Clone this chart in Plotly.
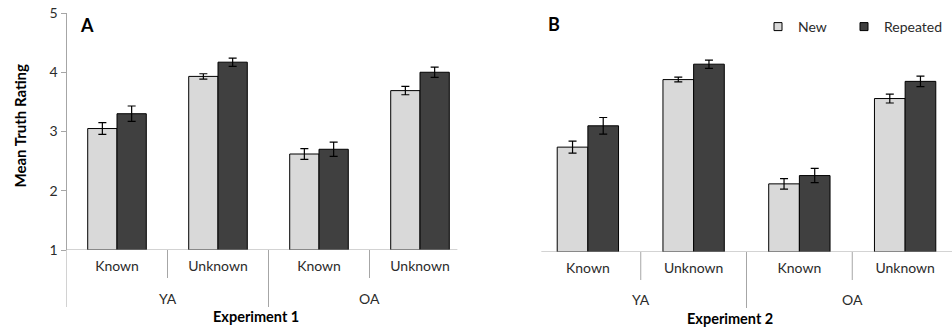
import plotly.graph_objects as go

# ---- data ----
groups = ["YA", "OA"]
conditions = ["Known", "Unknown", "Known", "Unknown"]
series = ["New", "Repeated"]

expA_new = [3.05, 3.93, 2.62, 3.69]
expA_new_err = [0.10, 0.045, 0.09, 0.07]
expA_rep = [3.30, 4.17, 2.70, 4.00]
expA_rep_err = [0.13, 0.07, 0.12, 0.087]

expB_new = [2.77, 3.91, 2.15, 3.59]
expB_new_err = [0.10, 0.04, 0.09, 0.075]
expB_rep = [3.13, 4.17, 2.29, 3.88]
expB_rep_err = [0.14, 0.07, 0.12, 0.09]

y_ticks = [1, 2, 3, 4, 5]

W, H = 952, 333
FONT = "Lato"
TXT = "#2b2b2b"
GRID = "#A6A6A6"
C_NEW = "#D9D9D9"
C_REP = "#404040"

xpos = list(range(len(conditions)))

def px_x(p):
    return p / W

def px_y(p):
    return 1 - p / H

fig = go.Figure()

def add_bars(vals, errs, color, name, xa, ya):
    fig.add_trace(go.Bar(
        x=xpos, y=[v - 1 for v in vals], base=1, name=name,
        marker=dict(color=color, line=dict(color="black", width=1)),
        error_y=dict(type="data", array=errs, color="black", thickness=1.2, width=4),
        xaxis=xa, yaxis=ya, showlegend=False))

add_bars(expA_new, expA_new_err, C_NEW, series[0], "x", "y")
add_bars(expA_rep, expA_rep_err, C_REP, series[1], "x", "y")
add_bars(expB_new, expB_new_err, C_NEW, series[0], "x2", "y2")
add_bars(expB_rep, expB_rep_err, C_REP, series[1], "x2", "y2")

# legend entries (one legend per entry so spacing matches)
for nm, col, lg in zip(series, [C_NEW, C_REP], ["legend", "legend2"]):
    fig.add_trace(go.Scatter(x=[None], y=[None], mode="markers", name=nm, legend=lg,
                             marker=dict(symbol="square", size=8, color=col,
                                         line=dict(color="black", width=1)),
                             xaxis="x2", yaxis="y2"))

# domains
A_x0, A_x1 = 66.5, 470.5
B_x0, B_x1 = 535, 958
A_base, A_top = 250, 13
B_base = 252
unit = (A_base - A_top) / 4
B_top = B_base - 4 * unit

B_range_end = -0.5 + 4 * (W - B_x0) / (B_x1 - B_x0)

cat_font = dict(family=FONT, size=14, color=TXT)
leg_common = dict(orientation="h", y=px_y(27), xanchor="left", yanchor="middle",
                  font=dict(family=FONT, size=14, color=TXT), bgcolor="rgba(0,0,0,0)")

fig.update_layout(
    width=W, height=H, margin=dict(l=0, r=0, t=0, b=0, autoexpand=False),
    paper_bgcolor="white", plot_bgcolor="white",
    bargap=0.42, bargroupgap=0, barmode="group",
    font=dict(family=FONT, size=13, color=TXT),
    xaxis=dict(domain=[px_x(A_x0), px_x(A_x1)], range=[-0.5, 3.5],
               tickvals=xpos, ticktext=conditions, showgrid=False, zeroline=False,
               showline=False, ticks="", tickfont=cat_font, ticklabelstandoff=6,
               anchor="y", automargin=False),
    yaxis=dict(domain=[px_y(A_base), px_y(A_top)], range=[1, 5], tickvals=y_ticks,
               showgrid=False, zeroline=False, showline=True, linecolor=GRID, linewidth=1,
               ticks="outside", ticklen=5, tickcolor=GRID,
               tickfont=dict(family=FONT, size=14, color=TXT), anchor="x", automargin=False),
    xaxis2=dict(domain=[px_x(B_x0), 1], range=[-0.5, B_range_end],
                tickvals=xpos, ticktext=conditions, showgrid=False, zeroline=False,
                showline=False, ticks="", tickfont=cat_font, ticklabelstandoff=6,
                anchor="y2", automargin=False),
    yaxis2=dict(domain=[px_y(B_base), px_y(B_top)], range=[1, 5], visible=False,
                anchor="x2"),
    legend=dict(x=px_x(758), **leg_common),
    legend2=dict(x=px_x(844), **leg_common),
)

shapes = []
line = dict(color=GRID, width=1)
# baselines
shapes.append(dict(type="line", xref="x", yref="y", x0=-0.5, x1=3.37, y0=1, y1=1, line=line))
shapes.append(dict(type="line", xref="x2", yref="y2", x0=-0.44, x1=B_range_end, y0=1, y1=1, line=line))
# panel A dividers
shapes.append(dict(type="line", xref="x", yref="paper", x0=-0.5, x1=-0.5,
                   y0=px_y(307), y1=px_y(A_base), line=line))
for xv in [0.5, 2.5]:
    shapes.append(dict(type="line", xref="x", yref="paper", x0=xv, x1=xv,
                       y0=px_y(278), y1=px_y(A_base), line=line))
shapes.append(dict(type="line", xref="x", yref="paper", x0=1.5, x1=1.5,
                   y0=px_y(307), y1=px_y(A_base), line=line))
# panel B dividers
for xv in [0.5, 2.5]:
    shapes.append(dict(type="line", xref="x2", yref="paper", x0=xv, x1=xv,
                       y0=px_y(280), y1=px_y(B_base), line=line))
shapes.append(dict(type="line", xref="x2", yref="paper", x0=1.5, x1=1.5,
                   y0=px_y(308), y1=px_y(B_base), line=line))
fig.update_layout(shapes=shapes)

ann = []
for xa, yy in [("x", 298), ("x2", 299)]:
    for xv, g in zip([0.5, 2.5], groups):
        ann.append(dict(x=xv, y=px_y(yy), xref=xa, yref="paper", text=g, showarrow=False,
                        font=cat_font, xanchor="center", yanchor="middle"))
bold_font = dict(family=FONT, size=14.5, color="black")
ann.append(dict(x=px_x(256), y=px_y(316), xref="paper", yref="paper", text="<b>Experiment 1</b>",
                showarrow=False, font=bold_font, xanchor="center", yanchor="middle"))
ann.append(dict(x=px_x(730), y=px_y(318), xref="paper", yref="paper", text="<b>Experiment 2</b>",
                showarrow=False, font=bold_font, xanchor="center", yanchor="middle"))
ann.append(dict(x=px_x(78), y=px_y(25), xref="paper", yref="paper", text="<b>A</b>",
                showarrow=False, font=dict(family=FONT, size=18, color="black"),
                xanchor="left", yanchor="middle"))
ann.append(dict(x=px_x(546), y=px_y(24), xref="paper", yref="paper", text="<b>B</b>",
                showarrow=False, font=dict(family=FONT, size=18, color="black"),
                xanchor="left", yanchor="middle"))
ann.append(dict(x=px_x(19), y=px_y(125.5), xref="paper", yref="paper", text="<b>Mean Truth Rating</b>",
                showarrow=False, textangle=-90, font=dict(family=FONT, size=15, color="black"),
                xanchor="center", yanchor="middle"))
fig.update_layout(annotations=ann)

fig.write_html("out.html", config={"displayModeBar": False},
               post_script="document.body.style.margin='0';document.body.style.overflow='hidden';")
